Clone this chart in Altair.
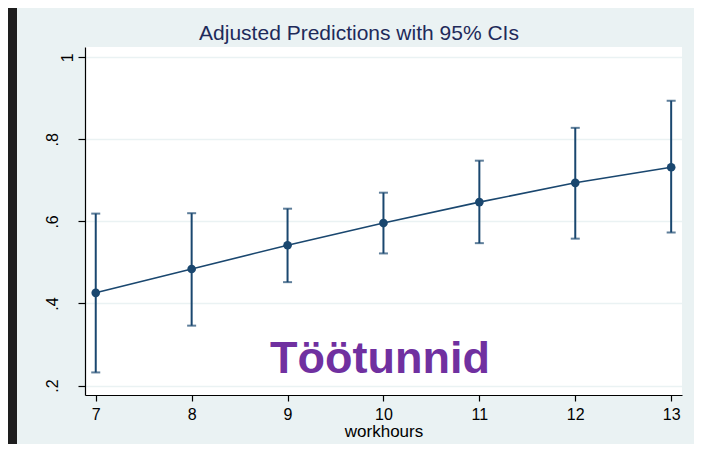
import altair as alt
import pandas as pd

# ---- data ----
hours = [7, 8, 9, 10, 11, 12, 13]
pred = [0.426, 0.484, 0.542, 0.596, 0.647, 0.694, 0.732]
ci_lo = [0.232, 0.346, 0.452, 0.522, 0.547, 0.558, 0.573]
ci_hi = [0.619, 0.620, 0.631, 0.670, 0.748, 0.828, 0.894]

ytick_vals = [0.2, 0.4, 0.6, 0.8, 1.0]
ytick_labels = [".2", ".4", ".6", ".8", "1"]
xtick_vals = [7, 8, 9, 10, 11, 12, 13]

title_text = "Adjusted Predictions with 95% CIs"
x_title = "workhours"
watermark = "Töötunnid"

df = pd.DataFrame({"hours": hours, "pred": pred, "lo": ci_lo, "hi": ci_hi})

NAVY = "#1a476f"
BG = "#eaf2f3"
DARK = "#1e1e1e"
FONT = "Liberation Sans"

ylabel_expr = " : ".join(
    f"datum.value > {v - 0.01} && datum.value < {v + 0.01} ? '{l}'"
    for v, l in zip(ytick_vals, ytick_labels)
) + " : ''"

xs = alt.Scale(domain=[6.888, 13.113], nice=False, zero=False)
ys = alt.Scale(domain=[0.177, 1.025], nice=False, zero=False)

x_axis = alt.Axis(
    values=xtick_vals, grid=False, title=x_title, format="d",
    labelFont=FONT, labelFontSize=16, labelColor="#000000",
    labelBaseline="alphabetic", labelPadding=18, tickSize=6,
    tickColor="#000000", domainColor="#000000", tickWidth=1.2, domainWidth=1.2,
    titleFont=FONT, titleFontSize=17, titleFontWeight="normal", titleColor="#000000",
    titleBaseline="alphabetic", titleY=41,
)
y_axis = alt.Axis(
    values=ytick_vals, title=None, labelExpr=ylabel_expr,
    labelFont=FONT, labelFontSize=16, labelColor="#000000",
    labelAngle=270, labelAlign="center", labelBaseline="alphabetic",
    labelPadding={"condition": {"test": "datum.value > 0.99", "value": 6}, "value": 21},
    tickSize=7, tickColor="#000000", domainColor="#000000", tickWidth=1.2, domainWidth=1.2,
    grid=True, gridColor=BG, gridWidth=1.5,
)

base = alt.Chart(df)

one = alt.Data(values=[{"a": 1}])
left_strip = alt.Chart(one).mark_rect(color=DARK).encode(
    x=alt.value(-77), x2=alt.value(-68), y=alt.value(-39), y2=alt.value(420)
)

bars = base.mark_rule(color=NAVY, strokeWidth=2).encode(
    x=alt.X("hours:Q", scale=xs, axis=x_axis),
    y=alt.Y("lo:Q", scale=ys, axis=y_axis),
    y2="hi:Q",
)
cap_lo = base.mark_tick(color=NAVY, orient="horizontal", size=9, thickness=2).encode(
    x=alt.X("hours:Q", scale=xs), y=alt.Y("lo:Q", scale=ys)
)
cap_hi = base.mark_tick(color=NAVY, orient="horizontal", size=9, thickness=2).encode(
    x=alt.X("hours:Q", scale=xs), y=alt.Y("hi:Q", scale=ys)
)
line = base.mark_line(color=NAVY, strokeWidth=1.6).encode(
    x=alt.X("hours:Q", scale=xs), y=alt.Y("pred:Q", scale=ys)
)
pts = base.mark_point(filled=True, color=NAVY, size=75, opacity=1).encode(
    x=alt.X("hours:Q", scale=xs), y=alt.Y("pred:Q", scale=ys)
)

title = alt.Chart(alt.Data(values=[{"t": title_text}])).mark_text(
    font=FONT, fontSize=21, color="#1e2a5a", align="center", baseline="alphabetic"
).encode(x=alt.value(274), y=alt.value(-7), text="t:N")

wm = alt.Chart(alt.Data(values=[{"t": watermark}])).mark_text(
    font=FONT, fontSize=45, fontWeight="bold", color="#7030a0", align="center", baseline="alphabetic"
).encode(x=alt.value(295), y=alt.value(326), text="t:N")

chart = alt.layer(
    left_strip, bars, cap_lo, cap_hi, line, pts, wm, title
).properties(
    width=597, height=348,
    autosize=alt.AutoSizeParams(type="none"),
    padding={"left": 77, "top": 39, "right": 12, "bottom": 49},
    background=BG,
).configure_view(fill="white", strokeWidth=0)

chart.save("out.html", embed_options={"renderer": "svg", "actions": False})
